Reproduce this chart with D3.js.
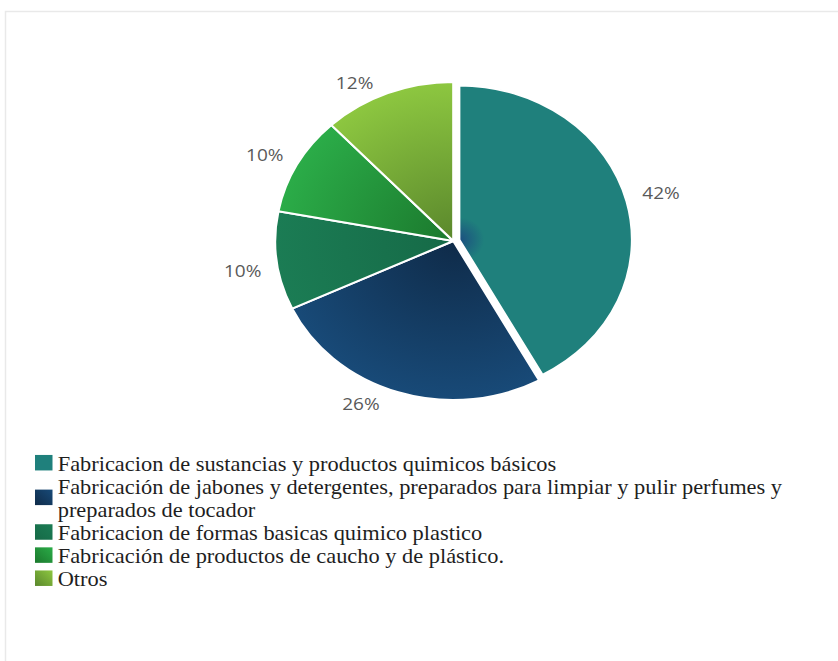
<!DOCTYPE html>
<html>
<head>
<meta charset="utf-8">
<script src="https://cdn.jsdelivr.net/npm/d3@7"></script>
<style>
  html, body { margin: 0; padding: 0; background: #ffffff; }
  svg { display: block; }
</style>
</head>
<body>
<script>
// Sector shares of the chemical industry
const categories = [
  "Fabricacion de sustancias y productos quimicos básicos",
  "Fabricación de jabones y detergentes, preparados para limpiar y pulir perfumes y preparados de tocador",
  "Fabricacion de formas basicas quimico plastico",
  "Fabricación de productos de caucho y de plástico.",
  "Otros"
];
const shares = [42, 26, 10, 10, 12];
const percentLabels = ["42%", "26%", "10%", "10%", "12%"];

// Fill colours: outer rim and centre of each slice's gradient
const outerColors = ["#1f807c", "#184a78", "#1b7c54", "#2bac48", "#8dc740"];
const innerColors = ["#1c4f80", "#0f2b49", "#166a47", "#1b782d", "#5a872c"];
const innerStops  = [0.14, 0, 0, 0, 0];

const W = 838, H = 661;
const sx = 1.12;               // horizontal stretch of the whole figure
const cx = 453.3 / sx, cy = 241, R = 159;
const explodeIdx = 0, explodeDist = 5.5, explodeScale = 0.97;

const svg = d3.select("body").append("svg")
  .attr("width", W).attr("height", H);

// faint frame around the figure
svg.append("rect")
  .attr("x", 5.5).attr("y", 11.5)
  .attr("width", W + 20).attr("height", H + 20)
  .attr("fill", "#ffffff")
  .attr("stroke", "#e9e9e9").attr("stroke-width", 1.5);

const defs = svg.append("defs");
shares.forEach((_, i) => {
  const rg = defs.append("radialGradient")
    .attr("id", "slice-grad-" + i)
    .attr("gradientUnits", "userSpaceOnUse")
    .attr("cx", 0).attr("cy", 0).attr("r", R);
  rg.append("stop").attr("offset", 0).attr("stop-color", innerColors[i]);
  if (innerStops[i] > 0) {
    rg.append("stop").attr("offset", innerStops[i]).attr("stop-color", outerColors[i]);
  }
  rg.append("stop").attr("offset", 1).attr("stop-color", outerColors[i]);

  const lg = defs.append("linearGradient")
    .attr("id", "key-grad-" + i)
    .attr("x1", 0).attr("y1", 1).attr("x2", 1).attr("y2", 0);
  lg.append("stop").attr("offset", 0).attr("stop-color", i === 0 ? outerColors[i] : innerColors[i]);
  lg.append("stop").attr("offset", 1).attr("stop-color", outerColors[i]);
});

const g = svg.append("g").attr("transform", `scale(${sx},1)`);

const pieData = d3.pie().sort(null).value(d => d)(shares);
const arc = d3.arc()
  .innerRadius(0)
  .outerRadius(d => d.index === explodeIdx ? R * explodeScale : R);

const midAngle = d => (d.startAngle + d.endAngle) / 2;
const offsetOf = d => {
  if (d.index !== explodeIdx) return [0, 0];
  const a = midAngle(d);
  return [Math.sin(a) * explodeDist, -Math.cos(a) * explodeDist];
};

const pieG = g.append("g").attr("transform", `translate(${cx},${cy})`);
pieG.selectAll("g.slice")
  .data(pieData)
  .join("g")
  .attr("class", "slice")
  .attr("transform", d => `translate(${offsetOf(d)})`)
  .append("path")
  .attr("d", arc)
  .attr("fill", d => `url(#slice-grad-${d.index})`)
  .attr("stroke", "#ffffff")
  .attr("stroke-width", 2)
  .attr("stroke-linejoin", "round");

// Percentage labels outside each slice
const labelR = 186;
const labelNudge = [[0, 0], [-28, -14], [-4, 7], [-6, 3], [-22, 15]];
pieG.selectAll("text.pct")
  .data(pieData)
  .join("text")
  .attr("class", "pct")
  .attr("x", d => {
    const o = offsetOf(d);
    return o[0] + Math.sin(midAngle(d)) * labelR + labelNudge[d.index][0] / sx;
  })
  .attr("y", d => {
    const o = offsetOf(d);
    return o[1] - Math.cos(midAngle(d)) * labelR + labelNudge[d.index][1];
  })
  .attr("dy", "0.36em")
  .attr("text-anchor", "middle")
  .attr("font-family", "'Open Sans', sans-serif")
  .attr("font-size", 17)
  .attr("fill", "#595959")
  .text(d => percentLabels[d.index]);

// Legend
const legX = 35 / sx, keyW = 17.5 / sx, keyH = 15.5;
const textX = 57.7 / sx;
const lineH = 23.1, firstBase = 470.7, maxW = 690;
const legend = g.append("g")
  .attr("font-family", "'Liberation Serif', 'Times New Roman', serif")
  .attr("font-size", 20)
  .attr("fill", "#1e1e1e");

let base = firstBase;
categories.forEach((label, i) => {
  const t = legend.append("text").attr("x", textX).attr("y", base);
  const words = label.split(" ");
  let line = [];
  let tspan = t.append("tspan").attr("x", textX).attr("y", base);
  let lines = 1;
  words.forEach(w => {
    line.push(w);
    tspan.text(line.join(" "));
    if (tspan.node().getComputedTextLength() > maxW && line.length > 1) {
      line.pop();
      tspan.text(line.join(" "));
      line = [w];
      tspan = t.append("tspan").attr("x", textX).attr("y", base + lines * lineH).text(w);
      lines++;
    }
  });
  const lastBase = base + (lines - 1) * lineH;
  const midY = (base + lastBase) / 2 - 8;
  legend.append("rect")
    .attr("x", legX).attr("y", midY - keyH / 2)
    .attr("width", keyW).attr("height", keyH)
    .attr("fill", `url(#key-grad-${i})`);
  base = lastBase + lineH;
});
</script>
</body>
</html>
